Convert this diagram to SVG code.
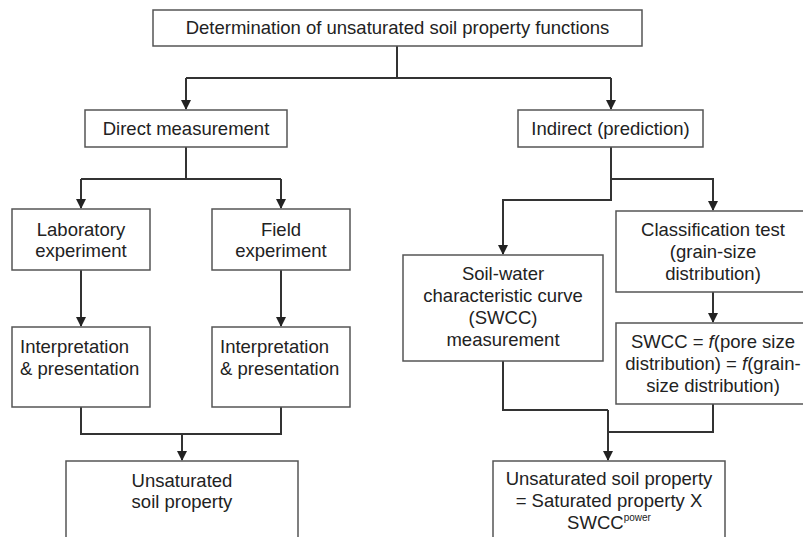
<svg xmlns="http://www.w3.org/2000/svg" width="803" height="537" viewBox="0 0 803 537">
<defs>
<marker id="ah" markerWidth="10" markerHeight="10" refX="9" refY="5" orient="auto" markerUnits="userSpaceOnUse" viewBox="0 0 10 10">
<path d="M0,0 L10,5 L0,10 Z" fill="#222"/>
</marker>
<style>
.box{fill:#fff;stroke:#555;stroke-width:1.5}
.t{font-family:"Liberation Sans",Arial,sans-serif;font-size:18.5px;fill:#222;text-anchor:middle}
.l{text-anchor:start}
.c{fill:none;stroke:#333;stroke-width:2}
</style>
</defs>
<rect width="803" height="537" fill="#fff"/>
<g id="connectors">
<path class="c" d="M397,46 V78 M186,78 H611"/>
<path class="c" d="M186,78 V109" marker-end="url(#ah)"/>
<path class="c" d="M611,78 V109" marker-end="url(#ah)"/>
<path class="c" d="M186,147 V179 M81,179 H281"/>
<path class="c" d="M81,179 V208" marker-end="url(#ah)"/>
<path class="c" d="M281,179 V208" marker-end="url(#ah)"/>
<path class="c" d="M81,270 V326" marker-end="url(#ah)"/>
<path class="c" d="M281,270 V326" marker-end="url(#ah)"/>
<path class="c" d="M81,407 V434 H281 V407"/>
<path class="c" d="M182,434 V460" marker-end="url(#ah)"/>
<path class="c" d="M611,147 V200 H503 V254" marker-end="url(#ah)"/>
<path class="c" d="M611,179 H713 V210" marker-end="url(#ah)"/>
<path class="c" d="M713,292 V322" marker-end="url(#ah)"/>
<path class="c" d="M503,361 V410 H608"/>
<path class="c" d="M713,404 V432 H608"/>
<path class="c" d="M608,410 V460" marker-end="url(#ah)"/>
</g>
<g id="n-root">
<rect class="box" x="153" y="10" width="489" height="36"/>
<text class="t" x="397.5" y="34">Determination of unsaturated soil property functions</text>
</g>
<g id="n-direct">
<rect class="box" x="85" y="110" width="202" height="37"/>
<text class="t" x="186" y="135">Direct measurement</text>
</g>
<g id="n-indirect">
<rect class="box" x="518" y="110" width="185" height="37"/>
<text class="t" x="610.5" y="135">Indirect (prediction)</text>
</g>
<g id="n-lab">
<rect class="box" x="12" y="209" width="138" height="61"/>
<text class="t" x="81" y="236">Laboratory</text>
<text class="t" x="81" y="257">experiment</text>
</g>
<g id="n-field">
<rect class="box" x="212" y="209" width="138" height="61"/>
<text class="t" x="281" y="236">Field</text>
<text class="t" x="281" y="257">experiment</text>
</g>
<g id="n-interp1">
<rect class="box" x="12" y="327" width="138" height="80"/>
<text class="t l" x="20" y="353">Interpretation</text>
<text class="t l" x="20" y="375">&amp; presentation</text>
</g>
<g id="n-interp2">
<rect class="box" x="212" y="327" width="138" height="80"/>
<text class="t l" x="220" y="353">Interpretation</text>
<text class="t l" x="220" y="375">&amp; presentation</text>
</g>
<g id="n-unsat">
<rect class="box" x="66" y="461" width="232" height="90"/>
<text class="t" x="182" y="487">Unsaturated</text>
<text class="t" x="182" y="508">soil property</text>
</g>
<g id="n-classif">
<rect class="box" x="616" y="211" width="200" height="81"/>
<text class="t" x="713" y="236">Classification test</text>
<text class="t" x="713" y="258">(grain-size</text>
<text class="t" x="713" y="280">distribution)</text>
</g>
<g id="n-swccm">
<rect class="box" x="403" y="255" width="200" height="106"/>
<text class="t" x="503" y="280">Soil-water</text>
<text class="t" x="503" y="302">characteristic curve</text>
<text class="t" x="503" y="324">(SWCC)</text>
<text class="t" x="503" y="346">measurement</text>
</g>
<g id="n-swccf">
<rect class="box" x="616" y="323" width="200" height="81"/>
<text class="t" x="713" y="348">SWCC = <tspan font-style="italic">f</tspan>(pore size</text>
<text class="t" x="713" y="370">distribution) = <tspan font-style="italic">f</tspan>(grain-</text>
<text class="t" x="713" y="392">size distribution)</text>
</g>
<g id="n-result">
<rect class="box" x="493" y="461" width="232" height="90"/>
<text class="t" x="609" y="485">Unsaturated soil property</text>
<text class="t" x="609" y="507">= Saturated property X</text>
<text class="t" x="609" y="529">SWCC<tspan font-size="10" dy="-8">power</tspan></text>
</g>
</svg>
